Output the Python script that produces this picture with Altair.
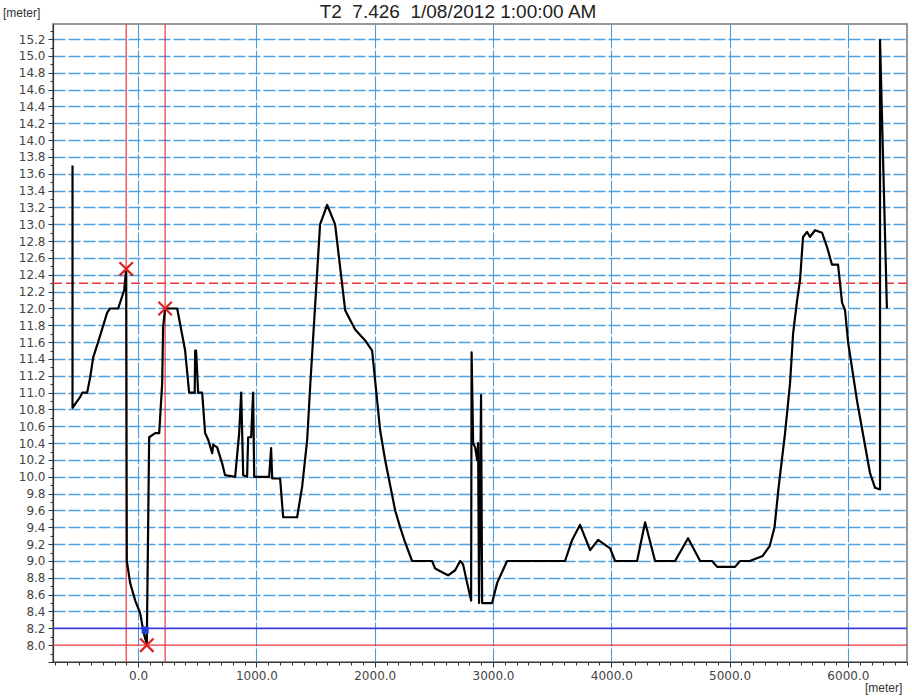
import altair as alt
import pandas as pd

# ---------------- data ----------------
title_text = "T2\u00a0\u00a07.426\u00a0\u00a01/08/2012 1:00:00 AM"
unit_y = "[meter]"
unit_x = "[meter]"

chainage = [-555, -555, -490, -473, -431, -406, -380, -330, -262, -237, -169, -118, -101,
            -96, -68, -25, 17, 42, 59, 73, 93, 144, 178, 203, 211, 228, 330, 397, 431, 478,
            482, 490, 507, 541, 566, 592, 626, 634, 668, 710, 735, 820, 854, 871, 888, 921,
            930, 955, 972, 981, 1107, 1124, 1133, 1200, 1226, 1344, 1386, 1429, 1454, 1538,
            1598, 1665, 1750, 1834, 1919, 1978, 2046, 2088, 2173, 2215, 2257, 2316, 2485,
            2511, 2578, 2620, 2680, 2722, 2747, 2781, 2815, 2819, 2832, 2849, 2866, 2874,
            2882, 2899, 2908, 2992, 3035, 3119, 3609, 3669, 3736, 3821, 3888, 3990, 4032,
            4218, 4286, 4370, 4539, 4649, 4751, 4852, 4895, 5046, 5089, 5170, 5280, 5340,
            5380, 5415, 5469, 5511, 5537, 5571, 5596, 5621, 5655, 5680, 5723, 5782, 5824,
            5866, 5917, 5951, 5976, 6002, 6078, 6129, 6188, 6230, 6272, 6272, 6330]
level = [13.70, 10.82, 10.95, 11.00, 11.00, 11.18, 11.42, 11.64, 11.95, 12.00, 12.00, 12.22, 12.47,
         9.00, 8.74, 8.53, 8.38, 8.18, 8.08, 8.02, 10.47, 10.52, 10.52, 11.11, 11.78, 12.00, 12.00,
         11.50, 11.00, 11.00, 11.50, 11.50, 11.00, 11.00, 10.52, 10.44, 10.28, 10.38, 10.35, 10.16,
         10.02, 10.00, 10.52, 11.00, 10.02, 10.00, 10.47, 10.47, 11.00, 10.00, 10.00, 10.34, 9.98,
         9.98, 9.52, 9.52, 9.88, 10.44, 11.07, 13.00, 13.23, 13.00, 11.98, 11.75, 11.62, 11.50,
         10.55, 10.20, 9.60, 9.40, 9.22, 9.00, 9.00, 8.91, 8.86, 8.83, 8.89, 9.00, 8.96, 8.74,
         8.53, 11.48, 10.40, 10.35, 10.20, 10.40, 8.50, 10.97, 8.50, 8.50, 8.74, 9.00, 9.00,
         9.25, 9.43, 9.13, 9.25, 9.15, 9.00, 9.00, 9.46, 9.00, 9.00, 9.27, 9.00, 9.00, 8.93,
         8.93, 9.00, 9.00, 9.06, 9.18, 9.40, 9.88, 10.52, 11.11, 11.70, 12.10, 12.34, 12.85,
         12.91, 12.85, 12.93, 12.90, 12.73, 12.52, 12.52, 12.07, 11.98, 11.60, 10.90, 10.50,
         10.04, 9.87, 9.85, 15.19, 12.00]

red_vlines = [-101, 228]
red_dashed_level = [12.3]
red_solid_level = [8.0]
blue_level = [8.2]
cross_x = [-101, 228, 73]
cross_y = [12.47, 12.00, 8.00]
square_x = [59]
square_y = [8.18]

x_ticks = list(range(-700, 6501, 100))
y_ticks = [round(7.8 + 0.1 * i, 1) for i in range(76)]

# ---------------- chart ----------------
W, H = 854, 638
FONT = "DejaVu Sans"

xscale = alt.Scale(domain=[-720, 6500], nice=False, zero=False)
yscale = alt.Scale(domain=[7.8, 15.38], nice=False, zero=False)

major_x = "datum.value % 1000 === 0"
major_y = "round(datum.value * 10) % 2 === 0"

xaxis = alt.Axis(
    values=x_ticks, title=None,
    labelExpr="datum.value % 1000 === 0 ? format(datum.value, '.1f') : ''",
    labelFont=FONT, labelFontSize=12, labelColor="#444", labelPadding=3,
    labelFlush=False, labelOverlap=False,
    tickSize={"condition": {"test": major_x, "value": 5}, "value": 3},
    tickColor="#333", domainColor="#333", domainWidth=1.2,
    grid=True, gridColor="#4a9ddc", gridWidth=1.1,
    gridDash=[24, 2],
    gridOpacity={"condition": {"test": major_x, "value": 1}, "value": 0},
)
yaxis = alt.Axis(
    values=y_ticks, title=None,
    labelExpr="(round(datum.value * 10) % 2 === 0 && datum.value > 7.95 && datum.value < 15.25) ? format(datum.value, '.1f') : ''",
    labelFont=FONT, labelFontSize=12, labelColor="#444", labelPadding=3,
    labelFlush=False, labelOverlap=False,
    tickSize={"condition": {"test": major_y, "value": 5}, "value": 3},
    tickColor="#333", domainColor="#333", domainWidth=1.2,
    grid=True, gridColor="#4fa0dc", gridWidth=1.5,
    gridDash=[12, 3],
    gridOpacity={"condition": {"test": major_y + " && datum.value > 8.3 && datum.value < 15.3", "value": 1}, "value": 0},
)


def X(f):
    return alt.X(f, type="quantitative", scale=xscale, axis=xaxis)


def Y(f):
    return alt.Y(f, type="quantitative", scale=yscale, axis=yaxis)


line_df = pd.DataFrame({"x": chainage, "y": level, "i": range(len(chainage))})

line = alt.Chart(line_df).mark_line(color="black", strokeWidth=2.2, strokeJoin="round").encode(
    x=X("x"), y=Y("y"), order="i:Q"
)

vl = alt.Chart(pd.DataFrame({"x": red_vlines})).mark_rule(color="#e8343a", strokeWidth=1.2).encode(x=X("x"))
hl_dash = alt.Chart(pd.DataFrame({"y": red_dashed_level})).mark_rule(
    color="#e8343a", strokeWidth=1.3, strokeDash=[9, 4]).encode(y=Y("y"))
hl_red = alt.Chart(pd.DataFrame({"y": red_solid_level})).mark_rule(
    color="#e8343a", strokeWidth=1.4).encode(y=Y("y"))
hl_blue = alt.Chart(pd.DataFrame({"y": blue_level})).mark_rule(
    color="#3a3ae0", strokeWidth=1.6).encode(y=Y("y"))

crosses = alt.Chart(pd.DataFrame({"x": cross_x, "y": cross_y})).mark_point(
    shape="M-1,-1L1,1M-1,1L1,-1", filled=False, color="#e02020", strokeWidth=2.2, size=180, opacity=1
).encode(x=X("x"), y=Y("y"))

square = alt.Chart(pd.DataFrame({"x": square_x, "y": square_y})).mark_square(
    color="#1f3fe0", size=50, opacity=1).encode(x=X("x"), y=Y("y"))

title = alt.Chart(pd.DataFrame({"t": [title_text]})).mark_text(
    font="Liberation Sans", fontSize=19, color="#222", align="center", baseline="middle"
).encode(text="t:N", x=alt.value(405), y=alt.value(-12))

ylab = alt.Chart(pd.DataFrame({"t": [unit_y]})).mark_text(
    font="Liberation Sans", fontSize=12, color="#333", align="left", baseline="middle"
).encode(text="t:N", x=alt.value(-50), y=alt.value(-11))

xlab = alt.Chart(pd.DataFrame({"t": [unit_x]})).mark_text(
    font="Liberation Sans", fontSize=12, color="#333", align="left", baseline="middle"
).encode(text="t:N", x=alt.value(812), y=alt.value(664))

chart = alt.layer(vl, hl_dash, hl_red, hl_blue, line, crosses, square, title, ylab, xlab).properties(
    width=W, height=H,
    autosize=alt.AutoSizeParams(type="none"),
    padding={"left": 53, "top": 24, "right": 5, "bottom": 37},
    background="white",
).configure_view(stroke="#777", strokeWidth=1.5)

chart.save("out.html", embed_options={"renderer": "svg", "actions": False})
